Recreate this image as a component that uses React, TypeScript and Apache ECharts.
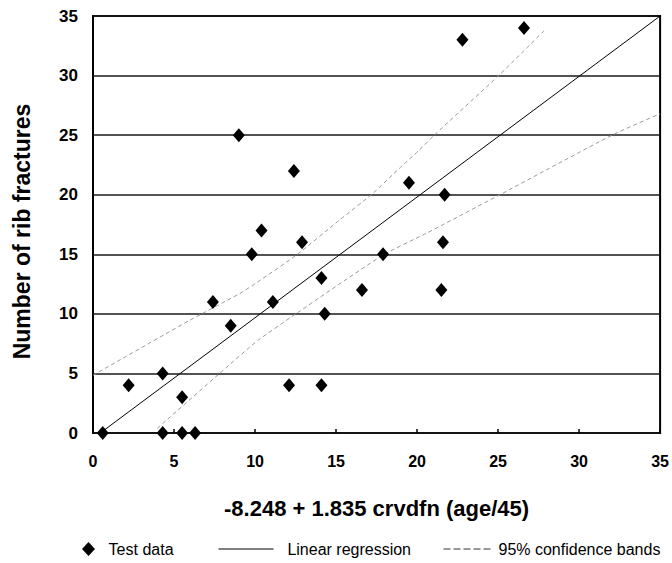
import React, { useEffect, useRef } from "react";
import * as echarts from "echarts";

// Test data (x = -8.248 + 1.835 crvdfn(age/45), y = number of rib fractures)
const testX = [0.6, 2.2, 4.3, 4.3, 5.5, 5.5, 6.3, 7.4, 8.5, 9.0, 9.8, 10.4, 11.1, 12.1, 12.4, 12.9, 14.1, 14.1, 14.3, 16.6, 17.9, 19.5, 21.7, 21.6, 21.5, 22.8, 26.6];
const testY = [0, 4, 5, 0, 3, 0, 0, 11, 9, 25, 15, 17, 11, 4, 22, 16, 13, 4, 10, 12, 15, 21, 20, 16, 12, 33, 34];

// Linear regression line
const regX = [0.45, 35];
const regY = [0, 35];

// 95% confidence bands
const upperX = [0, 5.97, 9.05, 10.08, 12.54, 15.2, 17.26, 18.9, 20.13, 21.06, 25.06, 27.94];
const upperY = [4.84, 9.46, 11.7, 12.6, 14.92, 17.86, 20.1, 22.2, 23.74, 25.0, 30.03, 33.9];
const lowerX = [3.97, 8.03, 9.67, 10.18, 12.54, 17.88, 20.54, 25.06, 32.04, 35];
const lowerY = [0.4, 5.26, 7.2, 7.78, 10.02, 14.92, 16.74, 19.96, 25.0, 26.8];

const xTitle = "-8.248 + 1.835 crvdfn (age/45)";
const yTitle = "Number of rib fractures";

const zip = (xs: number[], ys: number[]) => xs.map((x, i) => [x, ys[i]]);

export default function App() {
  const ref = useRef<HTMLDivElement>(null);
  useEffect(() => {
    const chart = echarts.init(ref.current!, null, { renderer: "svg" });
    const font = 'Arial, "Liberation Sans", sans-serif';
    const hiddenSymbol = { color: "rgba(0,0,0,0)", borderWidth: 0, opacity: 0 };
    chart.setOption({
      animation: false,
      backgroundColor: "#fff",
      textStyle: { fontFamily: font },
      grid: {
        left: 93,
        right: 11,
        top: 16,
        bottom: 130,
        show: true,
        borderColor: "#000",
        borderWidth: 2,
        backgroundColor: "transparent",
      },
      xAxis: {
        type: "value",
        min: 0,
        max: 35,
        interval: 5,
        name: xTitle,
        nameLocation: "middle",
        nameGap: 64,
        nameTextStyle: { fontSize: 22, fontWeight: "bold", color: "#000", fontFamily: font },
        axisLine: { show: false },
        axisTick: { show: true, inside: true, length: 4, lineStyle: { color: "#000", width: 1.5 } },
        axisLabel: { fontSize: 16, fontWeight: "bold", color: "#000", margin: 20, fontFamily: font },
        splitLine: { show: false },
      },
      yAxis: {
        type: "value",
        min: 0,
        max: 35,
        interval: 5,
        name: yTitle,
        nameLocation: "middle",
        nameGap: 60,
        nameTextStyle: {
          fontSize: 23,
          fontWeight: "bold",
          color: "#000",
          fontFamily: font,
          padding: [0, 14, 0, 0],
        },
        axisLine: { show: false },
        axisTick: { show: false },
        axisLabel: { fontSize: 17, fontWeight: "bold", color: "#000", margin: 15, fontFamily: font },
        splitLine: { show: true, lineStyle: { color: "#1a1a1a", width: 1.5 } },
      },
      legend: [
        {
          data: [{ name: "Test data", icon: "diamond", itemStyle: { color: "#000", opacity: 1 } }],
          left: 82,
          top: 541,
          padding: 0,
          itemWidth: 13,
          itemHeight: 14,
          selectedMode: false,
          formatter: "  {name}",
          textStyle: { fontSize: 16, color: "#000", fontFamily: font },
        },
        {
          data: [
            {
              name: "Linear regression",
              itemStyle: hiddenSymbol,
              lineStyle: { color: "#000", width: 1, type: "solid" },
            },
          ],
          left: 218,
          top: 541,
          padding: 0,
          itemWidth: 55,
          itemHeight: 13,
          selectedMode: false,
          formatter: "  {name}",
          lineStyle: { color: "#000", width: 1, type: "solid" },
          textStyle: { fontSize: 16, color: "#000", fontFamily: font },
        },
        {
          data: [
            {
              name: "95% confidence bands",
              itemStyle: hiddenSymbol,
              lineStyle: { color: "#333", type: [7, 3], width: 1 },
            },
          ],
          left: 443,
          top: 541,
          padding: 0,
          itemWidth: 50,
          itemHeight: 13,
          selectedMode: false,
          lineStyle: { color: "#333", type: [7, 3], width: 1 },
          textStyle: { fontSize: 16, color: "#000", fontFamily: font },
        },
      ],
      series: [
        {
          name: "Linear regression",
          type: "line",
          data: zip(regX, regY),
          symbol: "none",
          itemStyle: { color: "#000" },
          lineStyle: { color: "#000", width: 1 },
          z: 2,
        },
        {
          name: "95% confidence bands",
          type: "line",
          data: zip(upperX, upperY),
          symbol: "none",
          smooth: 0.2,
          itemStyle: { color: "#9a9a9a" },
          lineStyle: { color: "#9a9a9a", width: 1, type: [4, 3] },
          z: 2,
        },
        {
          name: "95% confidence bands",
          type: "line",
          data: zip(lowerX, lowerY),
          symbol: "none",
          smooth: 0.2,
          itemStyle: { color: "#9a9a9a" },
          lineStyle: { color: "#9a9a9a", width: 1, type: [4, 3] },
          z: 2,
        },
        {
          name: "Test data",
          type: "scatter",
          data: zip(testX, testY),
          symbol: "diamond",
          symbolSize: [12, 14],
          itemStyle: { color: "#000", opacity: 1 },
          z: 5,
        },
      ],
    });
    return () => chart.dispose();
  }, []);
  return (
    <div
      ref={ref}
      style={{ position: "fixed", left: 0, top: 0, width: 672, height: 563 }}
    />
  );
}
